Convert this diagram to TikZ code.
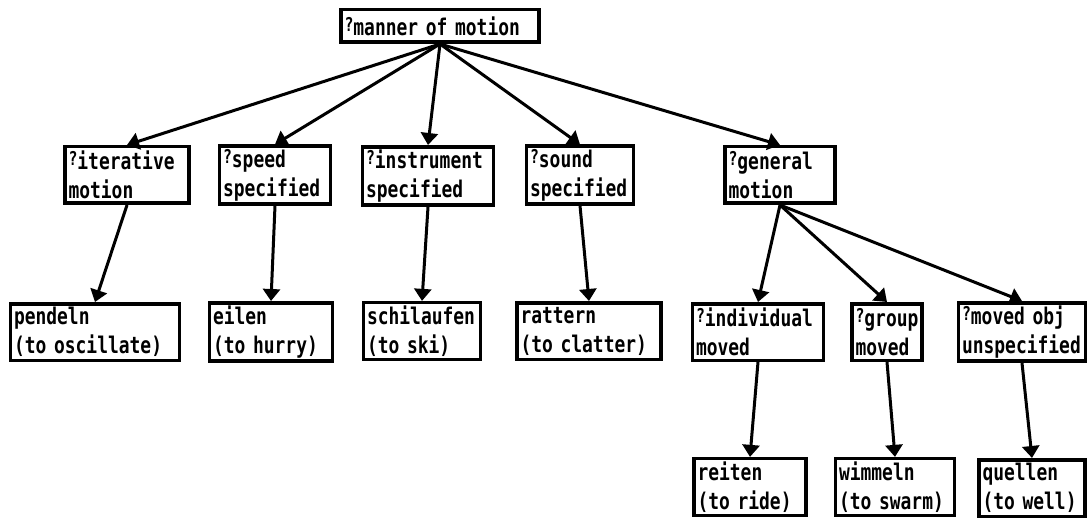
\documentclass[tikz,border=0pt]{standalone}
\usepackage{fontspec}
\setmonofont[FakeStretch=0.78]{DejaVu Sans Mono}
\usetikzlibrary{arrows.meta}
\newcommand{\qm}{\raisebox{.3ex}{\fontsize{19pt}{19pt}\selectfont ?}}

\begin{document}
\begin{tikzpicture}[x=1pt, y=-1pt,
  font=\ttfamily\bfseries\fontsize{23pt}{29pt}\selectfont,
  box/.style={draw, line width=3.5pt, align=left, inner xsep=3.5pt, inner ysep=3pt, minimum height=56.5pt, text width=#1},
  arr/.style={line width=3pt, -{Triangle[width=17pt,length=12pt]}}]
\useasboundingbox (0,0) rectangle (1089,521);

% root
\node[box=191pt, minimum height=32.5pt] (manner) at (440,26) {\qm manner of motion};

% second level
\node[box=117pt] (iter) at (127,175) {\qm iterative\\motion};
\node[box=104pt] (speed) at (275,175) {\qm speed\\specified};
\node[box=124pt] (instr) at (428,176) {\qm instrument\\specified};
\node[box=100pt] (sound) at (580,175) {\qm sound\\specified};
\node[box=103pt] (general) at (780,175) {\qm general\\motion};

% verbs and third level
\node[box=162pt] (pendeln) at (95,332) {pendeln\\(to oscillate)};
\node[box=116pt] (eilen) at (271,332) {eilen\\(to hurry)};
\node[box=110pt] (schilaufen) at (422,331) {schilaufen\\(to ski)};
\node[box=137pt] (rattern) at (589,331) {rattern\\(to clatter)};
\node[box=124pt] (indiv) at (758,332) {\qm individual\\moved};
\node[box=63pt] (group) at (887,332) {\qm group\\moved};
\node[box=120pt] (movedobj) at (1022,332) {\qm moved obj\\unspecified};

% fourth level
\node[box=105pt] (reiten) at (750,487) {reiten\\(to ride)};
\node[box=112pt] (wimmeln) at (895,487) {wimmeln\\(to swarm)};
\node[box=99pt] (quellen) at (1032,488) {quellen\\(to well)};

\draw[arr] (manner.south) -- (iter.north);
\draw[arr] (manner.south) -- (speed.north);
\draw[arr] (manner.south) -- (instr.north);
\draw[arr] (manner.south) -- (sound.north);
\draw[arr] (manner.south) -- (general.north);

\draw[arr] (iter.south) -- (pendeln.north);
\draw[arr] (speed.south) -- (eilen.north);
\draw[arr] (instr.south) -- (schilaufen.north);
\draw[arr] (sound.south) -- (rattern.north);
\draw[arr] (general.south) -- (indiv.north);
\draw[arr] (general.south) -- (group.north);
\draw[arr] (general.south) -- (movedobj.north);

\draw[arr] (indiv.south) -- (reiten.north);
\draw[arr] (group.south) -- (wimmeln.north);
\draw[arr] (movedobj.south) -- (quellen.north);
\end{tikzpicture}
\end{document}
